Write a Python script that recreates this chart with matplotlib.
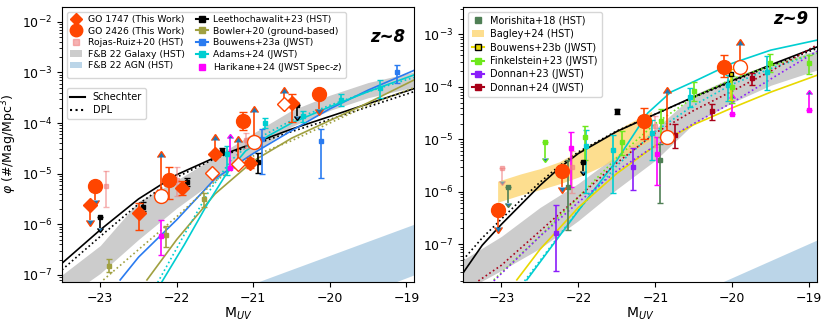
import numpy as np
import matplotlib
matplotlib.use("Agg")
from matplotlib import pyplot as plt
from matplotlib.lines import Line2D
from matplotlib.patches import Patch

# ---------------- data (log10 phi) ----------------
# z~8 panel
go1747_M = [-23.14, -22.49, -21.93, -21.50, -21.04, -20.49]
go1747_logphi = [-5.62, -5.78, -5.28, -4.62, -4.79, -3.61]
go1747_dlo = [0.30, 0.33, 0.15, 0.0, 0.10, 0.37]
go1747_dhi = [0.0, 0.21, 0.13, 0.28, 0.10, 0.18]
go1747_lim = ['u', '', '', 'l', '', '']
go1747o_M = [-21.54, -21.20, -20.60]
go1747o_logphi = [-4.98, -4.80, -3.63]
go1747o_dhi = [0.0, 0.42, 0.22]
go1747o_lim = ['', 'l', 'l']

go2426_M8 = [-23.07, -22.10, -21.14, -20.14]
go2426_logphi8 = [-5.24, -5.13, -3.96, -3.42]
go2426_dlo8 = [0.28, 0.37, 0.18, 0.30]
go2426_dhi8 = [0.0, 0.26, 0.18, 0.0]
go2426_lim8 = ['u', '', '', 'u']
go2426o_M8 = [-22.20, -20.99]
go2426o_logphi8 = [-5.44, -4.37]
go2426o_dhi8 = [0.77, 0.59]

rojas_M8 = [-22.92, -22.00, -21.09]
rojas_logphi8 = [-5.24, -5.13, -4.34]
rojas_dlo8 = [0.41, 0.31, 0.15]
rojas_dhi8 = [0.29, 0.26, 0.15]

leetho_M8 = [-23.00, -22.44, -21.87, -21.41, -20.94, -20.43]
leetho_logphi8 = [-5.86, -5.66, -5.17, -4.55, -4.77, -3.65]
leetho_dlo8 = [0.22, 0.08, 0.08, 0.06, 0.21, 0.22]
leetho_dhi8 = [0.0, 0.1, 0.08, 0.06, 0.17, 0.0]
leetho_lim8 = ['u', '', '', '', '', 'u']

bowler_M = [-22.89, -22.14, -21.64]
bowler_logphi = [-6.82, -6.22, -5.51]
bowler_dlo = [0.13, 0.22, 0.14]
bowler_dhi = [0.14, 0.19, 0.13]

bouw23a_M = [-20.88, -20.12, -19.12]
bouw23a_logphi = [-4.32, -4.36, -3.00]
bouw23a_dlo = [0.68, 0.73, 0.21]
bouw23a_dhi = [0.21, 0.25, 0.14]

adams_M8 = [-21.35, -20.85, -20.35, -19.85, -19.35]
adams_logphi8 = [-4.62, -4.00, -3.86, -3.54, -3.30]
adams_dlo8 = [0.40, 0.10, 0.12, 0.12, 0.21]
adams_dhi8 = [0.16, 0.09, 0.10, 0.11, 0.15]

hari_M8 = [-22.20, -21.30]
hari_logphi8 = [-6.24, -4.88]
hari_dlo8 = [0.37, 1.10]
hari_dhi8 = [0.32, 0.58]

# curves z~8
sch8_M = [-23.5, -23.0, -22.5, -22.0, -21.5, -21.0, -20.5, -20.0, -19.5, -18.9]
sch8_log = [-6.77, -6.11, -5.50, -5.02, -4.68, -4.40, -4.12, -3.87, -3.62, -3.32]
dpl8_M = [-23.5, -23.0, -22.5, -22.0, -21.5, -21.0, -20.5, -20.0, -19.5, -18.9]
dpl8_log = [-6.90, -6.24, -5.60, -5.07, -4.70, -4.43, -4.17, -3.93, -3.68, -3.38]
fbgal8_M = [-23.5, -23.0, -22.5, -22.0, -21.5, -21.0, -20.5, -20.0, -19.5, -18.9]
fbgal8_hi = [-7.00, -6.42, -5.55, -5.13, -4.67, -4.20, -3.75, -3.45, -3.20, -2.99]
fbgal8_lo = [-7.50, -6.97, -6.30, -5.68, -5.13, -4.60, -4.07, -3.75, -3.50, -3.29]
fbagn8_M = [-21.5, -18.9]
fbagn8_hi = [-7.45, -6.00]
fbagn8_lo = [-8.50, -7.00]
bouw23a_cM = [-22.74, -22.5, -22.0, -21.5, -21.0, -20.5, -20.0, -19.5, -18.9]
bouw23a_clog = [-7.10, -6.65, -5.91, -5.10, -4.60, -4.15, -3.72, -3.35, -2.96]
bowler_sM = [-22.39, -22.0, -21.75, -21.5, -21.0, -20.5, -20.0, -19.5, -18.9]
bowler_slog = [-7.10, -6.30, -5.85, -5.40, -4.75, -4.30, -3.95, -3.60, -3.15]
bowler_dM = [-22.96, -22.5, -22.0, -21.5, -21.0, -20.5, -20.0, -19.5, -18.9]
bowler_dlog = [-7.10, -6.50, -5.85, -5.15, -4.65, -4.35, -4.00, -3.65, -3.30]
adams8_sM = [-22.20, -21.9, -21.6, -21.35, -21.1, -20.8, -20.5, -20.0, -19.5, -18.9]
adams8_slog = [-7.15, -6.40, -5.60, -5.00, -4.55, -4.25, -4.00, -3.68, -3.38, -3.05]
adams8_dM = [-22.25, -21.9, -21.6, -21.3, -21.0, -20.5, -20.0, -19.5, -18.9]
adams8_dlog = [-7.15, -6.20, -5.40, -4.75, -4.35, -3.95, -3.65, -3.38, -3.10]

# z~9 panel
go2426_M9 = [-23.04, -22.21, -21.15, -20.11]
go2426_logphi9 = [-6.35, -5.60, -4.66, -3.62]
go2426_dlo9 = [0.32, 0.30, 0.34, 0.19]
go2426_dhi9 = [0.0, 0.0, 0.25, 0.23]
go2426_lim9 = ['u', 'u', '', '']
go2426o_M9 = [-20.85, -19.90]
go2426o_logphi9 = [-4.96, -3.62]
go2426o_dhi9 = [0.84, 0.42]

morishita_M = [-22.92, -22.13, -20.94]
morishita_logphi = [-5.90, -5.90, -5.39]
morishita_dlo = [0.32, 0.83, 0.82]
morishita_dhi = [0.0, 0.51, 0.30]
morishita_lim = ['u', '', '']

bagley_M = [-23.05, -22.75, -22.5, -22.25, -22.0, -21.75, -21.5, -21.25, -21.05]
bagley_hi = [-5.80, -5.66, -5.56, -5.43, -5.22, -5.02, -4.82, -4.62, -4.47]
bagley_lo = [-6.20, -6.06, -5.96, -5.85, -5.72, -5.55, -5.37, -5.18, -5.01]

bouw23b_M = [-20.02]
bouw23b_logphi = [-3.76]
bouw23b_dlo = [0.50]
bouw23b_dhi = [0.10]

fink_M = [-22.44, -21.92, -21.44, -20.93, -20.50, -20.00, -19.51, -19.01]
fink_logphi = [-5.05, -4.96, -5.05, -4.65, -4.07, -4.00, -3.54, -3.55]
fink_dlo = [0.30, 0.43, 0.25, 0.30, 0.20, 0.30, 0.18, 0.20]
fink_dhi = [0.0, 0.21, 0.20, 0.22, 0.17, 0.21, 0.16, 0.16]
fink_lim = ['u', '', '', '', '', '', '', '']

donnan23_M = [-22.29, -21.29]
donnan23_logphi = [-6.78, -5.52]
donnan23_dlo = [0.74, 0.45]
donnan23_dhi = [0.53, 0.35]

donnan24_M = [-20.75, -20.26, -19.75]
donnan24_logphi = [-4.92, -4.47, -3.84]
donnan24_dlo = [0.24, 0.16, 0.12]
donnan24_dhi = [0.22, 0.14, 0.10]

rojas_M9 = [-22.99, -22.08, -21.00]
rojas_logphi9 = [-5.55, -5.53, -4.75]
rojas_dlo9 = [0.25, 0.50, 0.40]
rojas_dhi9 = [0.0, 0.30, 0.20]
rojas_lim9 = ['u', '', '']

leetho_M9 = [-21.94, -21.50]
leetho_logphi9 = [-5.43, -4.47]
leetho_dlo9 = [0.17, 0.05]
leetho_dhi9 = [0.0, 0.05]
leetho_lim9 = ['u', '']

adams_M9 = [-21.90, -21.55, -21.05, -20.55, -20.05, -19.55]
adams_logphi9 = [-5.12, -5.20, -4.88, -4.19, -3.97, -3.72]
adams_dlo9 = [0.90, 0.82, 0.51, 0.20, 0.30, 0.34]
adams_dhi9 = [0.30, 0.28, 0.25, 0.17, 0.20, 0.30]

hari_M9 = [-22.10, -20.98, -20.00, -19.01]
hari_logphi9 = [-5.17, -5.28, -4.52, -4.44]
hari_dlo9 = [0.73, 0.60, 0.62, 0.51]
hari_dhi9 = [0.31, 0.32, 0.30, 0.30]
hari_lim9 = ['', '', 'l', 'l']

# curves z~9
sch9_M = [-23.5, -23.25, -23.0, -22.75, -22.5, -22.25, -22.0, -21.5, -21.0, -20.5, -20.0, -19.5, -18.9]
sch9_log = [-7.55, -7.02, -6.62, -6.25, -5.88, -5.55, -5.27, -4.85, -4.52, -4.19, -3.88, -3.58, -3.24]
dpl9_M = [-23.5, -23.25, -23.0, -22.75, -22.5, -22.25, -22.0, -21.5, -21.0, -20.5, -20.0, -19.5, -18.9]
dpl9_log = [-7.30, -6.88, -6.52, -6.16, -5.82, -5.51, -5.24, -4.84, -4.52, -4.20, -3.90, -3.60, -3.27]
fbgal9_M = [-23.5, -23.0, -22.5, -22.0, -21.5, -21.0, -20.5, -20.0, -19.5, -18.9]
fbgal9_hi = [-7.30, -6.85, -6.30, -5.84, -5.30, -4.80, -4.15, -3.82, -3.56, -3.30]
fbgal9_lo = [-7.90, -7.50, -7.08, -6.55, -5.95, -5.40, -4.70, -4.30, -3.97, -3.68]
fbagn9_M = [-20.13, -18.9]
fbagn9_hi = [-7.72, -6.92]
fbagn9_lo = [-8.72, -7.92]
adams9_sM = [-22.67, -22.25, -21.8, -21.5, -21.1, -20.8, -20.5, -20.0, -19.5, -18.9]
adams9_slog = [-7.68, -6.85, -5.97, -5.40, -4.50, -4.10, -3.90, -3.55, -3.30, -3.11]
adams9_dM = [-22.70, -22.0, -21.5, -21.0, -20.5, -20.0, -19.5, -18.9]
adams9_dlog = [-7.70, -6.35, -5.50, -4.85, -4.35, -3.95, -3.65, -3.35]
bouw23b_cM = [-22.80, -22.5, -22.0, -21.5, -21.0, -20.5, -20.0, -19.5, -18.9]
bouw23b_clog = [-7.68, -7.10, -6.30, -5.65, -5.12, -4.72, -4.40, -4.10, -3.78]
fink_cM = [-23.10, -22.5, -22.0, -21.5, -21.0, -20.5, -20.0, -19.5, -18.9]
fink_clog = [-7.68, -6.85, -6.10, -5.35, -4.70, -4.20, -3.85, -3.60, -3.36]
donnan23_cM = [-23.10, -22.5, -22.0, -21.5, -21.0, -20.5, -20.0, -19.5, -18.9]
donnan23_clog = [-7.70, -6.85, -6.20, -5.60, -5.12, -4.70, -4.30, -3.85, -3.32]
donnan24_cM = [-23.30, -23.0, -22.5, -22.0, -21.5, -21.0, -20.5, -20.0, -19.5, -18.9]
donnan24_clog = [-7.70, -7.40, -6.75, -6.10, -5.45, -4.88, -4.45, -4.08, -3.70, -3.20]

xticks = [-23, -22, -21, -20, -19]

# ---------------- colours ----------------
c_us = 'orangered'
c_rojas = '#f08080'
c_leetho = 'black'
c_bowler = '#a0a040'
c_bouw = '#2a7bf0'
c_adams = 'darkturquoise'
c_hari = 'magenta'
c_mori = '#4f7f55'
c_bagley = '#fdd36a'
c_bouwb = '#e8d800'
c_fink = '#6ee81c'
c_don23 = '#8a1efa'
c_don24 = '#a80018'


def pts(ax, M, logphi, dlo, dhi, lim=None, color='k', marker='s', ms=3.5,
        mfc=None, mec=None, alpha=1.0, zorder=3, capsize=2, elw=1.2):
    M = np.asarray(M)
    lp = np.asarray(logphi)
    dlo = np.asarray(dlo)
    dhi = np.asarray(dhi)
    if lim is None:
        lim = [''] * len(M)
    y = 10 ** lp
    ylo = y - 10 ** (lp - dlo)
    yhi = 10 ** (lp + dhi) - y
    up = np.array([l == 'u' for l in lim])
    lo = np.array([l == 'l' for l in lim])
    ax.errorbar(M, y, yerr=[ylo, yhi], fmt='none', ecolor=color, elinewidth=elw,
                capsize=capsize, uplims=up, lolims=lo, alpha=alpha, zorder=zorder)
    ax.plot(M, y, ls='none', marker=marker, ms=ms, mfc=mfc if mfc else color,
            mec=mec if mec else color, alpha=alpha, zorder=zorder + 0.5)


def curve(ax, M, lg, color, ls='-', lw=1.2):
    ax.plot(M, 10 ** np.asarray(lg), color=color, ls=ls, lw=lw, zorder=2)


fig = plt.figure(figsize=(8.3, 3.23), dpi=100)
ax1 = fig.add_axes([0.0747, 0.127, 0.4241, 0.851])
ax2 = fig.add_axes([0.5578, 0.127, 0.4265, 0.851])

# ---------------- z~8 ----------------
ax1.fill_between(fbgal8_M, 10 ** np.array(fbgal8_lo), 10 ** np.array(fbgal8_hi),
                 color='gray', alpha=0.4, lw=0, zorder=1)
ax1.fill_between(fbagn8_M, 10 ** np.array(fbagn8_lo), 10 ** np.array(fbagn8_hi),
                 color='C0', alpha=0.3, lw=0, zorder=1)
curve(ax1, sch8_M, sch8_log, 'black')
curve(ax1, dpl8_M, dpl8_log, 'black', ':')
curve(ax1, bouw23a_cM, bouw23a_clog, c_bouw)
curve(ax1, bowler_sM, bowler_slog, c_bowler)
curve(ax1, bowler_dM, bowler_dlog, c_bowler, ':')
curve(ax1, adams8_sM, adams8_slog, c_adams)
curve(ax1, adams8_dM, adams8_dlog, c_adams, ':')

pts(ax1, rojas_M8, rojas_logphi8, rojas_dlo8, rojas_dhi8, color=c_rojas, alpha=0.6)
pts(ax1, leetho_M8, leetho_logphi8, leetho_dlo8, leetho_dhi8, leetho_lim8, color=c_leetho)
pts(ax1, bowler_M, bowler_logphi, bowler_dlo, bowler_dhi, color=c_bowler)
pts(ax1, bouw23a_M, bouw23a_logphi, bouw23a_dlo, bouw23a_dhi, color=c_bouw)
pts(ax1, adams_M8, adams_logphi8, adams_dlo8, adams_dhi8, color=c_adams)
pts(ax1, hari_M8, hari_logphi8, hari_dlo8, hari_dhi8, ['', 'l'], color=c_hari)
pts(ax1, go1747_M, go1747_logphi, go1747_dlo, go1747_dhi, go1747_lim,
    color=c_us, marker='D', ms=7, zorder=5, capsize=3)
pts(ax1, go1747o_M, go1747o_logphi, np.zeros(3), go1747o_dhi, go1747o_lim,
    color=c_us, marker='D', ms=7, mfc='white', zorder=5, capsize=3)
pts(ax1, go2426_M8, go2426_logphi8, go2426_dlo8, go2426_dhi8, go2426_lim8,
    color=c_us, marker='o', ms=10, zorder=5, capsize=3)
pts(ax1, go2426o_M8, go2426o_logphi8, np.zeros(2), go2426o_dhi8, ['l', 'l'],
    color=c_us, marker='o', ms=10, mfc='white', zorder=5, capsize=3)

h1 = [Line2D([], [], ls='none', marker='D', ms=6, color=c_us),
      Line2D([], [], ls='none', marker='o', ms=9, color=c_us),
      Line2D([], [], ls='none', marker='s', ms=4, color=c_rojas, alpha=0.6),
      Patch(color='gray', alpha=0.4, lw=0),
      Patch(color='C0', alpha=0.3, lw=0),
      Line2D([], [], marker='s', ms=4, color=c_leetho),
      Line2D([], [], marker='s', ms=4, color=c_bowler),
      Line2D([], [], marker='s', ms=4, color=c_bouw),
      Line2D([], [], marker='s', ms=4, color=c_adams),
      Line2D([], [], ls='none', marker='s', ms=4, color=c_hari)]
l1 = ['GO 1747 (This Work)', 'GO 2426 (This Work)', 'Rojas-Ruiz+20 (HST)',
      'F&B 22 Galaxy (HST)', 'F&B 22 AGN (HST)', 'Leethochawalit+23 (HST)',
      'Bowler+20 (ground-based)', 'Bouwens+23a (JWST)', 'Adams+24 (JWST)',
      r'Harikane+24 (JWST Spec-$z$)']
leg1 = ax1.legend(h1, l1, loc='upper left', ncol=2, fontsize=6.7, labelspacing=0.28,
                  handlelength=1.3, handletextpad=0.6, columnspacing=1.2,
                  borderaxespad=0.5, borderpad=0.35)
ax1.add_artist(leg1)
h2 = [Line2D([], [], color='black', lw=1.5), Line2D([], [], color='black', ls=':', lw=1.5)]
ax1.legend(h2, ['Schechter', 'DPL'], loc='upper left', fontsize=7, labelspacing=0.35,
           handlelength=1.5, bbox_to_anchor=(0.013, 0.705), borderaxespad=0)
ax1.text(0.975, 0.89, 'z~8', transform=ax1.transAxes, ha='right',
         va='center', fontsize=12, fontweight='bold', fontstyle='italic')

# ---------------- z~9 ----------------
ax2.fill_between(fbgal9_M, 10 ** np.array(fbgal9_lo), 10 ** np.array(fbgal9_hi),
                 color='gray', alpha=0.4, lw=0, zorder=1)
ax2.fill_between(fbagn9_M, 10 ** np.array(fbagn9_lo), 10 ** np.array(fbagn9_hi),
                 color='C0', alpha=0.3, lw=0, zorder=1)
ax2.fill_between(bagley_M, 10 ** np.array(bagley_lo), 10 ** np.array(bagley_hi),
                 color=c_bagley, alpha=0.75, lw=0, zorder=1.5)
curve(ax2, sch9_M, sch9_log, 'black')
curve(ax2, dpl9_M, dpl9_log, 'black', ':')
curve(ax2, adams9_sM, adams9_slog, c_adams)
curve(ax2, adams9_dM, adams9_dlog, c_adams, ':')
curve(ax2, bouw23b_cM, bouw23b_clog, c_bouwb)
curve(ax2, fink_cM, fink_clog, c_fink, ':')
curve(ax2, donnan23_cM, donnan23_clog, c_don23, ':')
curve(ax2, donnan24_cM, donnan24_clog, c_don24, ':')

pts(ax2, rojas_M9, rojas_logphi9, rojas_dlo9, rojas_dhi9, rojas_lim9, color=c_rojas, alpha=0.6)
pts(ax2, leetho_M9, leetho_logphi9, leetho_dlo9, leetho_dhi9, leetho_lim9, color=c_leetho)
pts(ax2, morishita_M, morishita_logphi, morishita_dlo, morishita_dhi, morishita_lim, color=c_mori)
pts(ax2, adams_M9, adams_logphi9, adams_dlo9, adams_dhi9, color=c_adams)
pts(ax2, hari_M9, hari_logphi9, hari_dlo9, hari_dhi9, hari_lim9, color=c_hari)
pts(ax2, fink_M, fink_logphi, fink_dlo, fink_dhi, fink_lim, color=c_fink)
pts(ax2, donnan23_M, donnan23_logphi, donnan23_dlo, donnan23_dhi, color=c_don23)
pts(ax2, donnan24_M, donnan24_logphi, donnan24_dlo, donnan24_dhi, color=c_don24)
pts(ax2, bouw23b_M, bouw23b_logphi, bouw23b_dlo, bouw23b_dhi, color=c_bouwb,
    mfc=c_bouwb, mec='black')
pts(ax2, go2426_M9, go2426_logphi9, go2426_dlo9, go2426_dhi9, go2426_lim9,
    color=c_us, marker='o', ms=10, zorder=5, capsize=3)
pts(ax2, go2426o_M9, go2426o_logphi9, np.zeros(2), go2426o_dhi9, ['l', 'l'],
    color=c_us, marker='o', ms=10, mfc='white', zorder=5, capsize=3)

h3 = [Line2D([], [], ls='none', marker='s', ms=4, color=c_mori),
      Patch(color=c_bagley, alpha=0.75, lw=0),
      Line2D([], [], marker='s', ms=4, color=c_bouwb, mfc=c_bouwb, mec='black'),
      Line2D([], [], marker='s', ms=4, color=c_fink),
      Line2D([], [], marker='s', ms=4, color=c_don23),
      Line2D([], [], marker='s', ms=4, color=c_don24)]
l3 = ['Morishita+18 (HST)', 'Bagley+24 (HST)', 'Bouwens+23b (JWST)',
      'Finkelstein+23 (JWST)', 'Donnan+23 (JWST)', 'Donnan+24 (JWST)']
ax2.legend(h3, l3, loc='upper left', fontsize=7, labelspacing=0.35,
           handlelength=1.3, handletextpad=0.6, borderaxespad=0.5)
ax2.text(0.975, 0.955, 'z~9', transform=ax2.transAxes, ha='right',
         va='center', fontsize=12, fontweight='bold', fontstyle='italic')

for ax in (ax1, ax2):
    ax.set_yscale('log')
    ax.set_xlim(-23.5, -18.9)
    ax.set_xticks(xticks)
    ax.set_xlabel(r'M$_{UV}$', fontsize=10, labelpad=1)
    ax.tick_params(labelsize=9)
ax1.set_ylim(10 ** -7.14, 10 ** -1.71)
ax2.set_ylim(10 ** -7.72, 10 ** -2.48)
ax1.set_ylabel(r'$\varphi$ (#/Mag/Mpc$^3$)', fontsize=9, labelpad=2)

fig.savefig('out.png', dpi=100)
